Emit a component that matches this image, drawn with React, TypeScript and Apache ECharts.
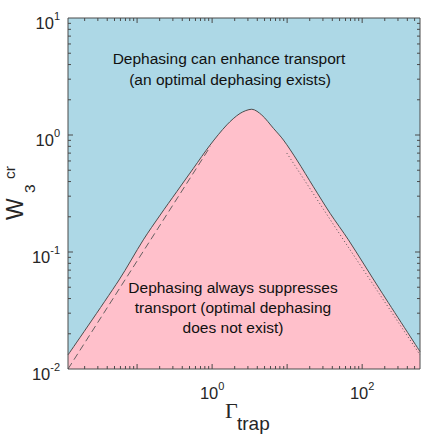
import React, { useEffect, useRef } from "react";
import * as echarts from "echarts";

const GAMMA_MIN = 0.012;
const GAMMA_MAX = 590;
const W_MIN = 0.01;
const W_MAX = 10;

// critical boundary W3^cr(Gamma_trap)
const boundaryGamma = [0.012, 0.0575, 0.121, 0.203, 0.338, 0.563, 0.94, 1.57, 2.36, 3.38, 4.6, 6.57, 8.93, 13.5, 22.4, 37.4, 65.6, 174, 590];
const boundaryW = [0.0132, 0.0577, 0.127, 0.207, 0.328, 0.519, 0.821, 1.22, 1.53, 1.66, 1.48, 1.14, 0.906, 0.611, 0.361, 0.214, 0.127, 0.0473, 0.0141];

// small-Gamma asymptote (dashed)
const lowAsymGamma = [0.012, 0.95];
const lowAsymW = [0.01, 0.8];
// large-Gamma asymptote (dotted)
const highAsymGamma = [9.9, 56.3, 590];
const highAsymW = [0.7, 0.127, 0.0132];

const xLabelExponents = [0, 2];
const yLabelExponents = [-2, -1, 0, 1];
const xDecades = [-2, -1, 0, 1, 2];
const yDecades = [-2, -1, 0, 1];
const minorMultipliers = [2, 3, 4, 5, 6, 7, 8, 9];

const upperText = ["Dephasing can enhance transport", "(an optimal dephasing exists)"];
const lowerText = ["Dephasing always suppresses", "transport (optimal dephasing", "does not exist)"];

const SANS = "'Liberation Sans', Arial, Helvetica, sans-serif";
const SERIF = "'Liberation Serif', 'Times New Roman', serif";
const INK = "#262626";
const FRAME = "#4a4a4a";

const pairs = (xs: number[], ys: number[]) => xs.map((x, i) => [x, ys[i]]);

const inRange = (v: number, lo: number, hi: number) => v > lo * 1.0001 && v < hi * 0.9999;

const xMajor = xDecades.map((d) => Math.pow(10, d)).filter((v) => inRange(v, GAMMA_MIN, GAMMA_MAX));
const xMinor: number[] = [];
xDecades.forEach((d) => minorMultipliers.forEach((m) => { const v = m * Math.pow(10, d); if (inRange(v, GAMMA_MIN, GAMMA_MAX)) xMinor.push(v); }));
const yMajor = yDecades.map((d) => Math.pow(10, d)).filter((v) => inRange(v, W_MIN, W_MAX));
const yMinor: number[] = [];
yDecades.forEach((d) => minorMultipliers.forEach((m) => { const v = m * Math.pow(10, d); if (inRange(v, W_MIN, W_MAX)) yMinor.push(v); }));

const powLabel = (exps: number[]) => (v: number) => {
  const l = Math.log10(v);
  const e = Math.round(l);
  if (Math.abs(l - e) > 1e-6 || exps.indexOf(e) < 0) return "";
  return `{b|10}{s|${e}}`;
};

const labelRich = {
  b: { fontSize: 16.5, fontFamily: SANS, color: INK, lineHeight: 21, verticalAlign: "bottom" },
  s: { fontSize: 11, fontFamily: SANS, color: INK, lineHeight: 13, verticalAlign: "top" },
};

function tickSeries(axis: "x" | "y", values: number[], len: number) {
  return {
    type: "custom",
    coordinateSystem: "cartesian2d",
    silent: true,
    z: 20,
    encode: { x: 0, y: 1 },
    data: values.map((v) => (axis === "x" ? [v, 1] : [1, v])),
    renderItem: (_p: any, api: any) => {
      const style = { stroke: FRAME, lineWidth: 1 };
      if (axis === "x") {
        const v = api.value(0);
        const a = api.coord([v, W_MIN]);
        const b = api.coord([v, W_MAX]);
        return {
          type: "group",
          children: [
            { type: "line", shape: { x1: a[0], y1: a[1], x2: a[0], y2: a[1] - len }, style },
            { type: "line", shape: { x1: b[0], y1: b[1], x2: b[0], y2: b[1] + len }, style },
          ],
        };
      }
      const v = api.value(1);
      const a = api.coord([GAMMA_MIN, v]);
      const b = api.coord([GAMMA_MAX, v]);
      return {
        type: "group",
        children: [
          { type: "line", shape: { x1: a[0], y1: a[1], x2: a[0] + len, y2: a[1] }, style },
          { type: "line", shape: { x1: b[0], y1: b[1], x2: b[0] - len, y2: b[1] }, style },
        ],
      };
    },
  };
}

const frameSeries = {
  type: "custom",
  coordinateSystem: "cartesian2d",
  silent: true,
  z: 21,
  encode: { x: 0, y: 1 },
  data: [[1, 1]],
  renderItem: (_p: any, api: any) => {
    const tl = api.coord([GAMMA_MIN, W_MAX]);
    const br = api.coord([GAMMA_MAX, W_MIN]);
    return {
      type: "rect",
      shape: { x: tl[0], y: tl[1], width: br[0] - tl[0], height: br[1] - tl[1] },
      style: { fill: "none", stroke: FRAME, lineWidth: 1 },
    };
  },
};

function textEl(text: string, x: number, y: number, size = 15.5) {
  return {
    type: "text",
    x,
    y,
    z: 100,
    style: { text, fontSize: size, fontFamily: SANS, fill: "#111", align: "center", verticalAlign: "middle" },
  };
}

export default function App() {
  const ref = useRef<HTMLDivElement>(null);
  useEffect(() => {
    if (!ref.current) return;
    const chart = echarts.init(ref.current, undefined, { renderer: "svg" });
    const option: any = {
      animation: false,
      backgroundColor: "#ffffff",
      grid: {
        left: 68,
        right: 10,
        top: 18,
        bottom: 71,
        show: true,
        backgroundColor: "#ADD8E6",
        borderWidth: 0,
      },
      xAxis: {
        type: "log",
        logBase: 10,
        min: GAMMA_MIN,
        max: GAMMA_MAX,
        axisLine: { show: false },
        axisTick: { show: false },
        splitLine: { show: false },
        axisLabel: {
          formatter: powLabel(xLabelExponents),
          margin: 11,
          rich: labelRich,
          showMinLabel: true,
          showMaxLabel: true,
        },
      },
      yAxis: {
        type: "log",
        logBase: 10,
        min: W_MIN,
        max: W_MAX,
        axisLine: { show: false },
        axisTick: { show: false },
        splitLine: { show: false },
        axisLabel: {
          formatter: powLabel(yLabelExponents),
          margin: 8,
          rich: labelRich,
          padding: [6, 0, 0, 0],
          showMinLabel: true,
          showMaxLabel: true,
        },
      },
      series: [
        {
          type: "line",
          data: pairs(boundaryGamma, boundaryW),
          smooth: 0.3,
          symbol: "none",
          z: 3,
          lineStyle: { color: "#4d4d4d", width: 1 },
          areaStyle: { color: "#FFC0CB", opacity: 1, origin: "start" },
        },
        {
          type: "line",
          data: pairs(lowAsymGamma, lowAsymW),
          symbol: "none",
          z: 4,
          lineStyle: { color: "#555555", width: 0.9, type: [7, 4] },
        },
        {
          type: "line",
          data: pairs(highAsymGamma, highAsymW),
          symbol: "none",
          z: 4,
          lineStyle: { color: "#555555", width: 1, type: [1, 2.5] },
        },
        tickSeries("x", xMajor, 5),
        tickSeries("x", xMinor, 3),
        tickSeries("y", yMajor, 5),
        tickSeries("y", yMinor, 3),
        frameSeries,
      ],
      graphic: [
        textEl(upperText[0], 229, 58),
        textEl(upperText[1], 230, 79),
        textEl(lowerText[0], 233, 287),
        textEl(lowerText[1], 233, 307),
        textEl(lowerText[2], 233, 327),
        // x-axis title: Gamma_trap
        { type: "text", x: 225, y: 410, z: 100, style: { text: "Γ", fontSize: 22, fontFamily: SERIF, fill: INK, align: "left", verticalAlign: "middle" } },
        { type: "text", x: 237, y: 423, z: 100, style: { text: "trap", fontSize: 19, fontFamily: SANS, fill: INK, align: "left", verticalAlign: "middle" } },
        // y-axis title: W_3^cr (rotated)
        {
          type: "group",
          x: 23,
          y: 220,
          rotation: Math.PI / 2,
          z: 100,
          children: [
            { type: "text", x: 0, y: -7.7, z: 100, style: { text: "W", fontSize: 23, fontFamily: SANS, fill: INK, align: "left", verticalAlign: "middle" } },
            { type: "text", x: 27, y: 6, z: 100, style: { text: "3", fontSize: 15.5, fontFamily: SANS, fill: INK, align: "left", verticalAlign: "middle" } },
            { type: "text", x: 41, y: -14, z: 100, style: { text: "cr", fontSize: 15.5, fontFamily: SANS, fill: INK, align: "left", verticalAlign: "middle" } },
          ],
        },
      ],
    };
    chart.setOption(option);
    return () => chart.dispose();
  }, []);
  return <div ref={ref} style={{ position: "fixed", left: 0, top: 0, width: 430, height: 440 }} />;
}
